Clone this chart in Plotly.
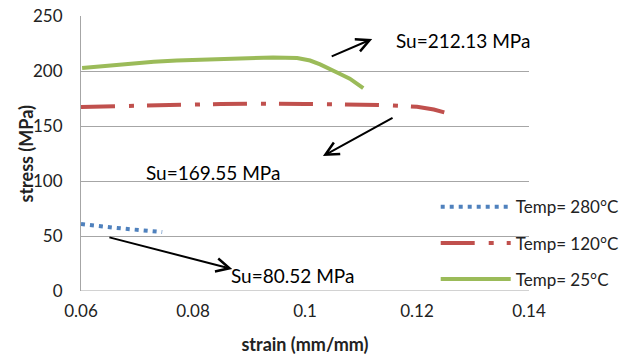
import plotly.graph_objects as go

# Data
strain_280 = [0.0600, 0.0620, 0.0640, 0.0660, 0.0680, 0.0700, 0.0720, 0.0735, 0.0745]
stress_280 = [60.9, 59.5, 58.5, 57.5, 56.5, 55.5, 54.5, 54.0, 53.6]

strain_120 = [0.0600, 0.0650, 0.0700, 0.0750, 0.0800, 0.0850, 0.0900, 0.0950, 0.1000,
              0.1050, 0.1100, 0.1150, 0.1200, 0.1230, 0.1259]
stress_120 = [167.3, 168.0, 168.5, 169.5, 170.0, 170.0, 170.3, 170.5, 170.0,
              169.8, 169.5, 168.8, 167.5, 165.0, 160.9]

strain_25 = [0.0602, 0.0650, 0.0693, 0.0730, 0.0771, 0.0825, 0.0880, 0.0943, 0.0986,
             0.1009, 0.1027, 0.1045, 0.1060, 0.1080, 0.1095, 0.1104]
stress_25 = [202.7, 205.0, 207.0, 208.5, 209.5, 210.5, 211.5, 212.3, 211.8,
             209.5, 206.0, 202.0, 198.0, 193.0, 188.0, 184.5]

series_names = ["Temp= 280°C", "Temp= 120°C", "Temp= 25°C"]
series_colors = ["#4F81BD", "#C0504D", "#9BBB59"]

x_ticks = [0.06, 0.08, 0.10, 0.12, 0.14]
x_tick_labels = ["0.06", "0.08", "0.1", "0.12", "0.14"]
y_ticks = [0, 50, 100, 150, 200, 250]

x_title = "<b>strain (mm/mm)</b>"
y_title = "<b>stress (MPa)</b>"

# annotations: (text, x, y) and arrows (tail_x, tail_y, head_x, head_y)
label_texts = ["Su=212.13 MPa", "Su=169.55 MPa", "Su=80.52 MPa"]
label_x = [0.1159, 0.0835, 0.0865]
label_y = [227.3, 107.3, 14.5]
label_anchor = ["left", "center", "left"]
arrow_tail_x = [0.1045, 0.1159, 0.0648]
arrow_tail_y = [212.7, 158.2, 49.1]
arrow_head_x = [0.1120, 0.1032, 0.0870]
arrow_head_y = [229.1, 122.7, 20.0]

FONT = "Lato, Carlito, Calibri, sans-serif"

fig = go.Figure()
fig.add_trace(go.Scatter(x=strain_280, y=stress_280, mode="lines", name=series_names[0],
                         legendgroup="a",
                         line=dict(color=series_colors[0], width=4, dash="4px,5px")))
fig.add_trace(go.Scatter(x=strain_120, y=stress_120, mode="lines", name=series_names[1],
                         legendgroup="b",
                         line=dict(color=series_colors[1], width=4, dash="34px,14px,5px,13px")))
fig.add_trace(go.Scatter(x=strain_25, y=stress_25, mode="lines", name=series_names[2],
                         legendgroup="c",
                         line=dict(color=series_colors[2], width=4)))

for i in range(3):
    fig.add_annotation(x=arrow_head_x[i], y=arrow_head_y[i], ax=arrow_tail_x[i], ay=arrow_tail_y[i],
                       xref="x", yref="y", axref="x", ayref="y", text="", showarrow=True,
                       arrowhead=5, arrowsize=1.3, arrowwidth=2, arrowcolor="black")
    fig.add_annotation(x=label_x[i], y=label_y[i], xref="x", yref="y", text=label_texts[i],
                       showarrow=False, xanchor=label_anchor[i], yanchor="middle",
                       font=dict(family=FONT, size=19, color="black"))

# y-axis title, placed precisely
fig.add_annotation(x=0, y=0.5, xref="paper", yref="paper", text=y_title, textangle=-90,
                   showarrow=False, xanchor="center", yanchor="middle", xshift=-56,
                   font=dict(family=FONT, size=18, color="#222"))

fig.update_layout(
    width=635, height=358,
    margin=dict(l=81, r=105, t=16, b=67),
    paper_bgcolor="white", plot_bgcolor="white",
    font=dict(family=FONT, size=17, color="#222"),
    showlegend=True,
    legend=dict(x=0.79, y=0.37, xanchor="left", yanchor="top",
                bgcolor="rgba(0,0,0,0)", traceorder="grouped", tracegroupgap=11,
                itemwidth=70, font=dict(family=FONT, size=17, color="#222")),
    xaxis=dict(range=[0.06, 0.14], tickvals=x_ticks, ticktext=x_tick_labels,
               showgrid=False, zeroline=False, showline=False, ticks="",
               ticklabelstandoff=8, automargin=False,
               title=dict(text=x_title, font=dict(family=FONT, size=18, color="#222"),
                          standoff=18)),
    yaxis=dict(range=[0, 250], tickvals=y_ticks, showgrid=True, gridcolor="#A6A6A6", gridwidth=1.2,
               zeroline=False, showline=True, linecolor="#A6A6A6", linewidth=1.2, ticks="",
               ticklabelstandoff=14, automargin=False),
)
fig.add_hline(y=0, line=dict(color="#A6A6A6", width=1.2), layer="below")

fig.write_html("out.html")
